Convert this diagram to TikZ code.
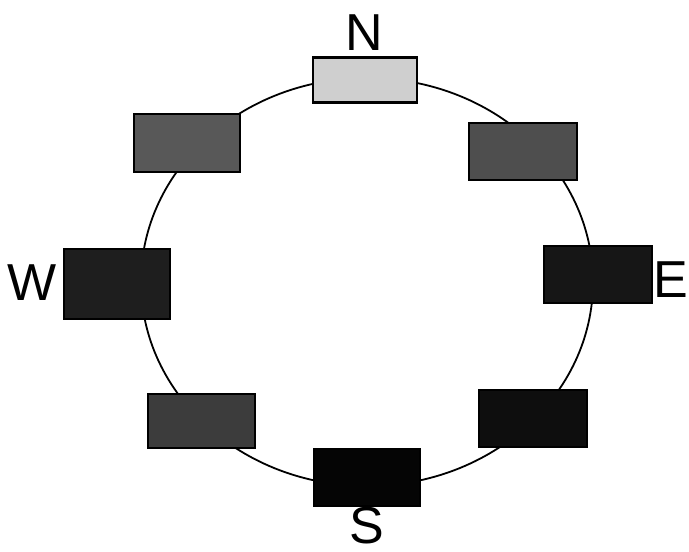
\documentclass[tikz,border=0pt]{standalone}
\usepackage{fontspec}
\setmainfont{Liberation Sans}
\definecolor{cN}{HTML}{CFCFCF}
\definecolor{cNW}{HTML}{585858}
\definecolor{cNE}{HTML}{4E4E4E}
\definecolor{cW}{HTML}{1E1E1E}
\definecolor{cE}{HTML}{161616}
\definecolor{cSW}{HTML}{3C3C3C}
\definecolor{cSE}{HTML}{0E0E0E}
\definecolor{cS}{HTML}{050505}
\begin{document}
\begin{tikzpicture}[x=1pt,y=-1pt,
  slot/.style={draw=black, line width=2.2pt, inner sep=0pt, anchor=center},
  lbl/.style={inner sep=0pt, anchor=base, font=\fontsize{52}{52}\selectfont}]
\useasboundingbox (0,0) rectangle (689,552);
\draw[line width=1.8pt] (367,282) ellipse [x radius=226pt, y radius=204pt];
\node[slot, fill=cN,  minimum width=104pt, minimum height=45pt] (n)  at (365,80) {};
\node[slot, fill=cNW, minimum width=106pt, minimum height=58pt] (nw) at (187,143) {};
\node[slot, fill=cNE, minimum width=108pt, minimum height=57pt] (ne) at (523,151.5) {};
\node[slot, fill=cW,  minimum width=106pt, minimum height=70pt] (w)  at (117,284) {};
\node[slot, fill=cE,  minimum width=108pt, minimum height=57pt] (e)  at (598,274.5) {};
\node[slot, fill=cSW, minimum width=107pt, minimum height=54pt] (sw) at (201.5,421) {};
\node[slot, fill=cSE, minimum width=108pt, minimum height=57pt] (se) at (533,418.5) {};
\node[slot, fill=cS,  minimum width=106pt, minimum height=57pt] (s)  at (367,477.5) {};
\node[lbl] (nl) at (364,50) {N};
\node[lbl] (wl) at (32,300) {W};
\node[lbl] (el) at (671,297) {E};
\node[lbl] (sl) at (367,543) {S};
\end{tikzpicture}
\end{document}
